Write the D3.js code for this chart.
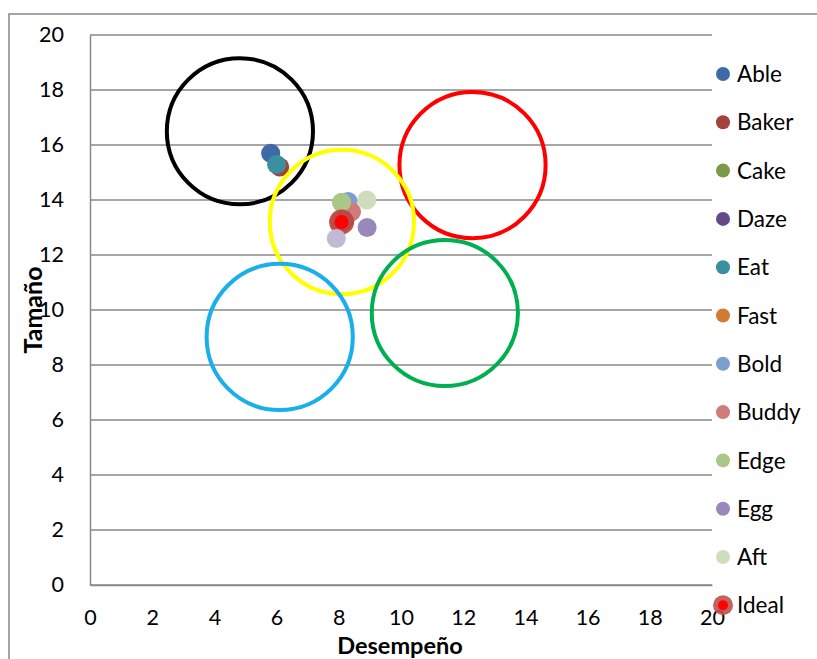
<!DOCTYPE html>
<html>
<head>
<meta charset="utf-8">
<script src="https://cdn.jsdelivr.net/npm/d3@7"></script>
<style>
  html, body { margin: 0; padding: 0; background: #fff; }
  svg { display: block; }
  text { font-family: Lato, "Open Sans", sans-serif; fill: #000; }
</style>
</head>
<body>
<div id="chart"></div>
<script>
// ---- data ----
const seriesNames  = ["Able","Baker","Cake","Daze","Eat","Fast","Bold","Buddy","Edge","Egg","Aft","Ideal"];
const seriesColors = ["#3E6BA5","#A5403C","#7A9A45","#634A86","#3A8FA0","#D27A36","#7D9FCF","#CF7B7A","#A9C785","#9A88BB","#CFDDBC","#FF0000"];
const pointX = [5.81, 6.10, 8.10, 8.20, 6.00, 8.10, 8.30, 8.41, 8.09, 8.91, 8.90, 8.09];
const pointY = [15.70, 15.20, 13.90, 13.30, 15.29, 13.20, 13.95, 13.57, 13.92, 13.00, 14.00, 13.20];
const extraX = [7.92];
const extraY = [12.60];
const extraColors = ["#C2B9D4"];

const ringX = [4.82, 12.30, 8.10, 11.41, 6.10];
const ringY = [16.50, 15.27, 13.20, 9.89, 9.02];
const ringR = [2.35, 2.35, 2.32, 2.35, 2.35];   // radius in x-axis units
const ringColors = ["#000000","#FF0000","#FFFF00","#00B050","#1AAEEA"];

const xTicks = [0,2,4,6,8,10,12,14,16,18,20];
const yTicks = [0,2,4,6,8,10,12,14,16,18,20];
const xTitle = "Desempeño";
const yTitle = "Tamaño";

// ---- layout ----
const W = 817, H = 659;
const svg = d3.select("#chart").append("svg").attr("width", W).attr("height", H);
const x = d3.scaleLinear().domain([0, 20]).range([90, 712]);
const y = d3.scaleLinear().domain([0, 20]).range([585, 35]);
const grid = "#898989";

// outer chart border
svg.append("path").attr("d", `M9,${H+5} L9,14 L${W+5},14`)
  .attr("fill", "none").attr("stroke", "#868686").attr("stroke-width", 1.5);

// gridlines
svg.append("g").selectAll("line").data(yTicks).join("line")
  .attr("x1", x(0)).attr("x2", x(20))
  .attr("y1", d => y(d)).attr("y2", d => y(d))
  .attr("stroke", grid).attr("stroke-width", 1.5);

// axes
const yAxis = d3.axisLeft(y).tickValues(yTicks).tickSize(0).tickPadding(26);
const gy = svg.append("g").attr("transform", `translate(${x(0)},0)`).call(yAxis);
gy.select(".domain").attr("stroke", grid).attr("stroke-width", 1.5);
gy.selectAll("text").style("font-size", "21.5px").style("font-family", "Lato").attr("fill", "#000");

const xAxis = d3.axisBottom(x).tickValues(xTicks).tickSize(0).tickPadding(25);
const gx = svg.append("g").attr("transform", `translate(0,${y(0)})`).call(xAxis);
gx.select(".domain").attr("stroke", grid).attr("stroke-width", 1.5);
gx.selectAll("text").style("font-size", "21.5px").style("font-family", "Lato").attr("fill", "#000");

// axis titles
svg.append("text").attr("x", 400).attr("y", 653.5).attr("text-anchor", "middle")
  .style("font-size", "23.5px").style("font-weight", "bold").text(xTitle);
svg.append("text").attr("transform", `translate(42,310) rotate(-90)`).attr("text-anchor", "middle")
  .style("font-size", "25px").style("font-weight", "bold").text(yTitle);

// points
const pts = seriesNames.map((n, i) => ({ name: n, x: pointX[i], y: pointY[i], color: seriesColors[i] }));
const gp = svg.append("g");
pts.forEach(p => {
  if (p.name === "Ideal") {
    gp.append("circle").attr("cx", x(p.x)).attr("cy", y(p.y)).attr("r", 12.5).attr("fill", "#BD4642").attr("opacity", 0.95);
    gp.append("circle").attr("cx", x(p.x)).attr("cy", y(p.y)).attr("r", 7).attr("fill", p.color);
  } else {
    gp.append("circle").attr("cx", x(p.x)).attr("cy", y(p.y)).attr("r", 9.5).attr("fill", p.color);
  }
});
extraX.forEach((v, i) => {
  gp.append("circle").attr("cx", x(v)).attr("cy", y(extraY[i])).attr("r", 9.5).attr("fill", extraColors[i]);
});

// rings
const pxPerUnit = x(1) - x(0);
svg.append("g").selectAll("circle").data(ringX.map((v, i) => i)).join("circle")
  .attr("cx", i => x(ringX[i])).attr("cy", i => y(ringY[i]))
  .attr("r", i => ringR[i] * pxPerUnit)
  .attr("fill", "none").attr("stroke", i => ringColors[i]).attr("stroke-width", 4);

// legend
const lg = svg.append("g");
seriesNames.forEach((n, i) => {
  const cy = 74 + i * 48.3;
  if (n === "Ideal") {
    lg.append("circle").attr("cx", 723).attr("cy", cy).attr("r", 10).attr("fill", "#C0504D").attr("opacity", 0.9);
    lg.append("circle").attr("cx", 723).attr("cy", cy).attr("r", 5).attr("fill", seriesColors[i]);
  } else {
    lg.append("circle").attr("cx", 723).attr("cy", cy).attr("r", 7).attr("fill", seriesColors[i]);
  }
  lg.append("text").attr("x", 737).attr("y", cy).attr("dy", "0.36em")
    .style("font-size", "22.5px").text(n);
});
</script>
</body>
</html>
